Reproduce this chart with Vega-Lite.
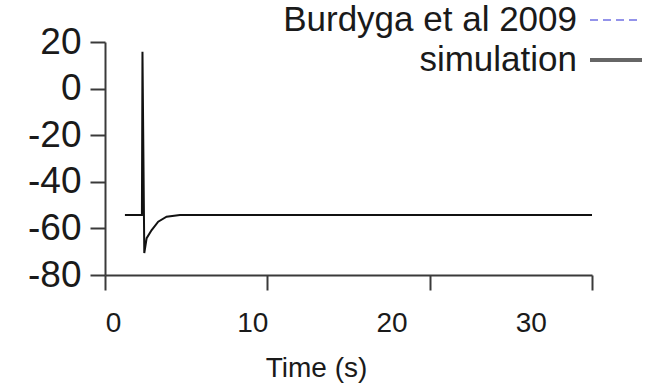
{
  "$schema": "https://vega.github.io/schema/vega-lite/v6.json",
  "width": 487,
  "height": 233,
  "autosize": {"type": "none"},
  "padding": {"left": 105, "top": 42, "right": 79, "bottom": 109},
  "background": "white",
  "config": {
    "view": {"stroke": null},
    "font": "Liberation Sans",
    "axis": {
      "grid": false,
      "domainColor": "#3a3a3a",
      "domainWidth": 2,
      "tickColor": "#3a3a3a",
      "tickWidth": 2,
      "labelColor": "#1a1a1a",
      "labelFont": "Liberation Sans",
      "titleFont": "Liberation Sans",
      "titleFontWeight": "normal",
      "titleColor": "#1a1a1a"
    }
  },
  "data": {
    "values": [
      {"t": 0.86, "v": -54.2, "series": "simulation"},
      {"t": 2.08, "v": -54.2, "series": "simulation"},
      {"t": 2.12, "v": 15.8, "series": "simulation"},
      {"t": 2.25, "v": -70.6, "series": "simulation"},
      {"t": 2.42, "v": -64.2, "series": "simulation"},
      {"t": 2.78, "v": -60.7, "series": "simulation"},
      {"t": 3.25, "v": -57.1, "series": "simulation"},
      {"t": 3.85, "v": -55.0, "series": "simulation"},
      {"t": 4.81, "v": -54.3, "series": "simulation"},
      {"t": 6.25, "v": -54.2, "series": "simulation"},
      {"t": 34.39, "v": -54.2, "series": "simulation"}
    ]
  },
  "resolve": {"axis": {"x": "independent"}},
  "layer": [
    {
      "mark": {"type": "line", "strokeWidth": 2, "stroke": "#111111"},
      "encoding": {
        "x": {
          "field": "t",
          "type": "quantitative",
          "scale": {"domain": [-0.57, 34.39], "nice": false, "zero": false},
          "axis": {
            "orient": "bottom",
            "values": [0, 10, 20, 30],
            "ticks": false,
            "domain": false,
            "labelFontSize": 28,
            "labelPadding": 34,
            "labelFlush": false,
            "title": "Time (s)",
            "titleFontSize": 28,
            "titleX": 211,
            "titleY": 93,
            "titleBaseline": "middle",
            "titleAnchor": "middle"
          }
        },
        "y": {
          "field": "v",
          "type": "quantitative",
          "scale": {"domain": [-80, 20], "nice": false, "zero": false},
          "axis": {
            "values": [-80, -60, -40, -20, 0, 20],
            "labelExpr": "'' + datum.value",
            "tickSize": 15,
            "labelFontSize": 37,
            "labelPadding": 9,
            "title": null
          }
        }
      }
    },
    {
      "mark": {"type": "line", "opacity": 0},
      "encoding": {
        "x": {
          "field": "t",
          "type": "quantitative",
          "axis": {
            "orient": "bottom",
            "values": [-0.57, 11.08, 22.74, 34.39],
            "labels": false,
            "tickSize": 15,
            "title": null
          }
        },
        "y": {"field": "v", "type": "quantitative"},
        "color": {
          "field": "series",
          "type": "nominal",
          "scale": {
            "domain": ["Burdyga et al 2009", "simulation"],
            "range": ["#7070e4", "#666666"]
          },
          "legend": {
            "orient": "none",
            "legendX": 189,
            "legendY": -43,
            "title": null,
            "padding": 0,
            "rowPadding": 0,
            "symbolType": "M-1.3,0L1.3,0",
            "symbolSize": 1600,
            "symbolOffset": 300,
            "symbolOpacity": 1,
            "labelAlign": "right",
            "labelOffset": -61,
            "labelFontSize": 35,
            "labelColor": "#1a1a1a",
            "labelLimit": 0
          }
        },
        "strokeDash": {
          "field": "series",
          "type": "nominal",
          "scale": {
            "domain": ["Burdyga et al 2009", "simulation"],
            "range": [[8, 5], [1, 0]]
          }
        },
        "strokeWidth": {
          "field": "series",
          "type": "nominal",
          "scale": {
            "domain": ["Burdyga et al 2009", "simulation"],
            "range": [1.5, 4]
          }
        }
      }
    }
  ]
}
